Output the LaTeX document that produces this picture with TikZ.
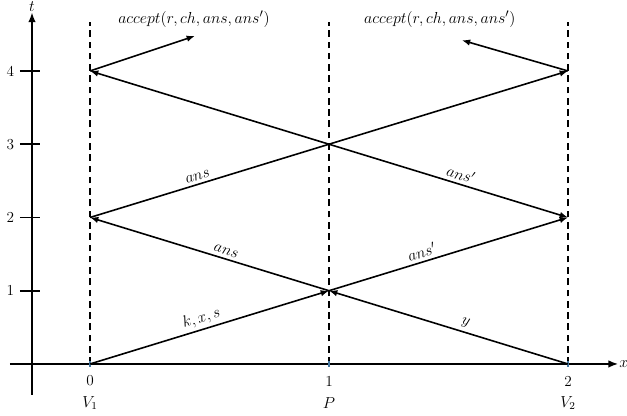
\documentclass[tikz,border=0pt]{standalone}
\usepackage{amsmath,amssymb}
\usetikzlibrary{arrows.meta,positioning,calc}
\definecolor{TickBlue}{RGB}{70,120,160}
\tikzset{
  axis/.style={-{Latex[length=2.6mm,width=2mm]},line width=1.3pt},
  tickline/.style={line width=1.3pt},
  ticklabel/.style={font=\fontsize{11.5}{13}\selectfont},
  lifeline/.style={line width=1.2pt,dash pattern=on 5pt off 3.5pt},
  msg/.style={-{Latex[length=2.2mm,width=1.7mm]},line width=1.2pt},
  msgboth/.style={{Latex[length=2.2mm,width=1.7mm]}-{Latex[length=2.2mm,width=1.7mm]},line width=1.2pt},
  msglabel/.style={sloped,above,inner sep=2.5pt,font=\fontsize{12}{14}\selectfont},
  acclabel/.style={font=\fontsize{12.5}{14}\selectfont}
}
\begin{document}
\begin{tikzpicture}[x=6.33cm,y=1.94cm]
\useasboundingbox (-0.3766,-0.710) rectangle (2.2469,4.969);
% axes
\coordinate (xs) at (-0.335,0);
\coordinate (xe) at (2.21,0);
\coordinate (ts) at (-0.2427,-0.423);
\coordinate (te) at (-0.2427,4.8);
\draw[axis](xs)--(xe);
\draw[axis](ts)--(te);
\node[right=0.3pt,inner sep=0.3pt,font=\large] (xlab) at (xe) {$x$};
\node[above=-3pt,font=\large] (tlab) at (te) {$t$};
\foreach \t in {1,...,4}{
  \draw[tickline](-0.293,\t)--(-0.21,\t);
  \node[ticklabel,anchor=east] (tl\t) at (-0.298,\t) {\t};
}

% process points
\coordinate (v10) at (0,0);
\coordinate (v12) at (0,2);
\coordinate (v14) at (0,4);
\coordinate (p1) at (1,1);
\coordinate (p3) at (1,3);
\coordinate (v20) at (2,0);
\coordinate (v22) at (2,2);
\coordinate (v24) at (2,4);
\coordinate (acc1) at (0.439,4.478);
\coordinate (acc2) at (1.556,4.42);

\foreach \x/\n/\lab in {0/a/{V_1},1/b/{P},2/c/{V_2}}{
  \draw[lifeline](\x,0)--(\x,4.67);
  \draw[TickBlue,line width=1pt](\x,-0.04)--(\x,0.04);
  \node[ticklabel] (xl\n) at (\x,-0.232) {\x};
  \node[ticklabel] (nm\n) at (\x,-0.532) {$\lab$};
}

\draw[msg](v10)--node[msglabel,pos=0.48]{$k,x,s$}(p1);
\draw[msg](v20)--node[msglabel,pos=0.44]{$y$}(p1);
\draw[msg](p1)--node[msglabel,pos=0.44]{$ans$}(v12);
\draw[msg](p1)--node[msglabel,pos=0.40]{$ans'$}(v22);
\draw[msg](v12)--node[msglabel,pos=0.23]{$ans$}(v24);
\draw[msgboth](v14)--node[msglabel,pos=0.77]{$ans'$}(v22);
\draw[msg](v14)--(acc1);
\draw[msg](v24)--(acc2);

\node[acclabel] (acct1) at (0.435,4.71) {$accept(r,ch,ans,ans')$};
\node[acclabel] (acct2) at (1.464,4.71) {$accept(r,ch,ans,ans')$};
\end{tikzpicture}
\end{document}
